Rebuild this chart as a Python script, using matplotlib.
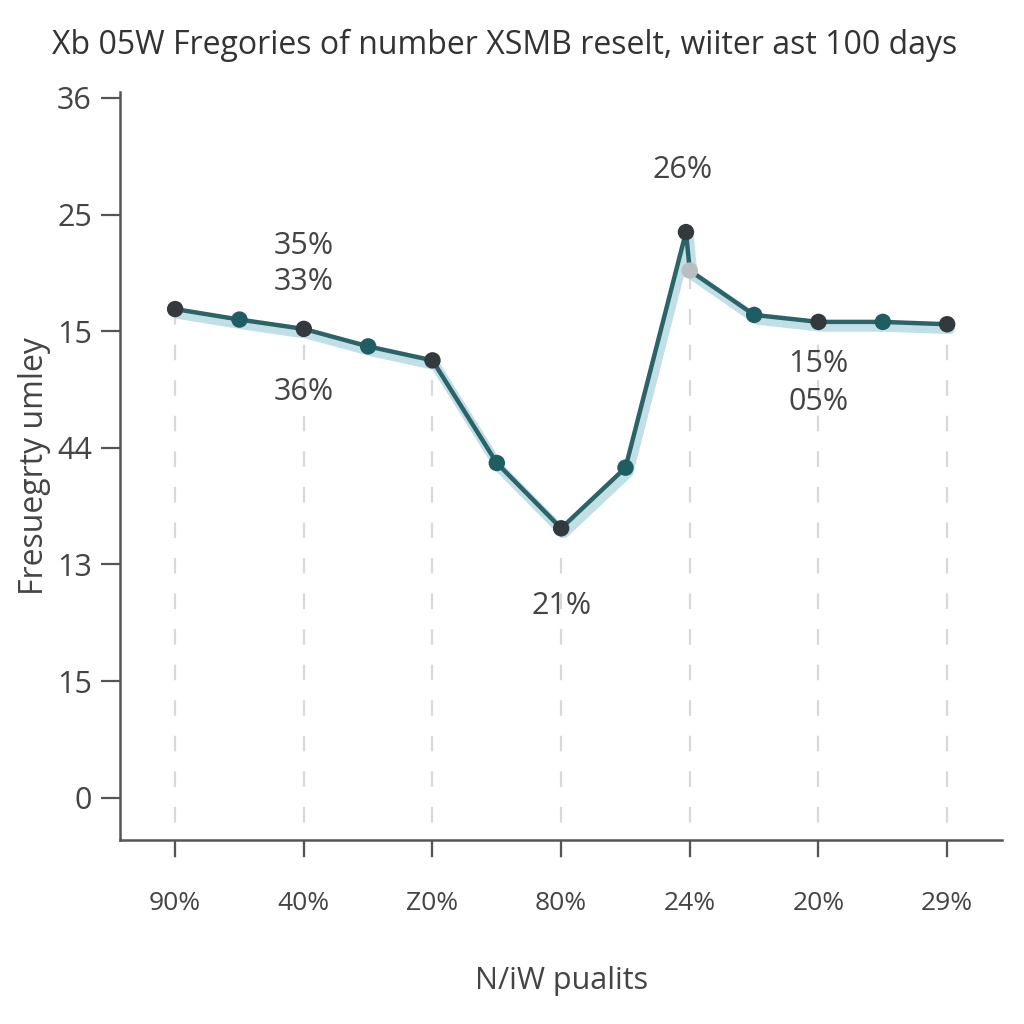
import matplotlib
matplotlib.use("Agg")
import matplotlib.pyplot as plt
import matplotlib.transforms as mtransforms
import numpy as np

# %%
## Data
title = "Xb 05W Fregories of number XSMB reselt, wiiter ast 100 days"
x_label = "N/iW pualits"
y_label = "Fresuegrty umley"

x_ticklabels = ["90%", "40%", "Z0%", "80%", "24%", "20%", "29%"]
y_ticklabels = ["0", "15", "13", "44", "15", "25", "36"]

x_pos = [0, 0.5, 1, 1.5, 2, 2.5, 3, 3.5, 3.97, 4.0, 4.5, 5, 5.5, 6]
y_val = [4.19, 4.10, 4.02, 3.87, 3.75, 2.87, 2.31, 2.83, 4.85, 4.52, 4.14, 4.08, 4.08, 4.06]
marker_col = ["#33393d", "#1e5d61", "#33393d", "#1e5d61", "#33393d", "#1e5d61",
              "#33393d", "#1e5d61", "#33393d", "#b9bec0", "#1e5d61", "#33393d",
              "#1e5d61", "#33393d"]

# value where each dashed drop line starts (one per x tick)
drop_top = [4.19, 4.02, 3.75, 2.31, 4.52, 4.08, 4.06]

notes = ["35%", "33%", "36%", "21%", "26%", "15%", "05%"]
note_x = [1, 1, 1, 3, 3.94, 5, 5]
note_y = [4.73, 4.42, 3.48, 1.64, 5.38, 3.72, 3.39]

# %%
plt.rcParams["font.family"] = ["Open Sans", "DejaVu Sans"]
fig = plt.figure(figsize=(10.24, 10.24), dpi=100)
ax = fig.add_axes([0.117, 0.18, 0.862, 0.73])

ax.vlines(range(len(drop_top)), -0.52, drop_top, colors="#d6d8d9",
          linestyles=(0, (7, 9)), linewidth=1.6, zorder=1, clip_on=False)

shadow = mtransforms.offset_copy(ax.transData, fig=fig, x=3, y=-5, units="dots")
ax.plot(x_pos, y_val, color="#b3d7e2", linewidth=7, alpha=0.8,
        solid_capstyle="round", transform=shadow, zorder=2)
ax.plot(x_pos, y_val, color="#2b6468", linewidth=3.2, zorder=3)
ax.scatter(x_pos, y_val, s=140, c=marker_col, zorder=4, linewidths=0)

for t, xx, yy in zip(notes, note_x, note_y):
    ax.text(xx, yy, t, ha="center", va="center", fontsize=22, color="#444444")

ax.set_xlim(-0.43, 6.43)
ax.set_ylim(-0.36, 6.05)
ax.set_xticks(range(len(x_ticklabels)))
ax.set_xticklabels(x_ticklabels, fontsize=19, color="#444444")
ax.set_yticks(range(len(y_ticklabels)))
ax.set_yticklabels(y_ticklabels, fontsize=22, color="#444444")
ax.tick_params(axis="x", length=12, width=1.6, color="#555555", pad=25)
ax.tick_params(axis="y", length=14, width=1.6, color="#555555", pad=6)

for s in ["top", "right"]:
    ax.spines[s].set_visible(False)
for s in ["left", "bottom"]:
    ax.spines[s].set_color("#555555")
    ax.spines[s].set_linewidth(1.8)

ax.set_xlabel(x_label, fontsize=22, color="#444444", labelpad=36)
ax.set_ylabel(y_label, fontsize=23, color="#444444", labelpad=4)
fig.text(0.493, 0.956, title, ha="center", va="center", fontsize=23, color="#333333")

fig.savefig("out.png", dpi=100, facecolor="white")
